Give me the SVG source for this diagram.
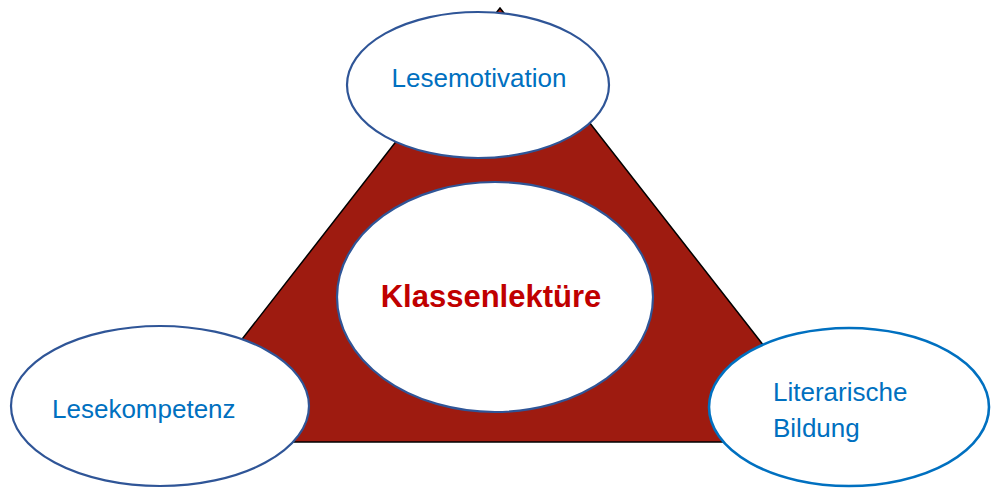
<svg xmlns="http://www.w3.org/2000/svg" width="991" height="488" viewBox="0 0 991 488">
  <style>
    .node { fill: #ffffff; stroke: #2F5597; stroke-width: 2.2; }
    .node-light { fill: #ffffff; stroke: #0070C0; stroke-width: 2.6; }
    .label { font-family: "Liberation Sans", Arial, sans-serif; font-size: 26px; fill: #0070C0; }
    .title { font-family: "Liberation Sans", Arial, sans-serif; font-size: 31px; font-weight: bold; fill: #C00000; }
  </style>
  <rect width="991" height="488" fill="#ffffff"/>

  <!-- backdrop triangle linking the three areas -->
  <g id="connectors">
    <polygon points="500,8 162,442 839,442" fill="#9E1B10" stroke="#000000" stroke-width="1.5" stroke-linejoin="miter"/>
  </g>

  <g id="node-klassenlektuere">
    <ellipse class="node" cx="495" cy="297" rx="158" ry="115" stroke-width="1.8"/>
    <text class="title" x="491" y="307" text-anchor="middle">Klassenlektüre</text>
  </g>

  <g id="node-lesemotivation">
    <ellipse class="node" cx="478" cy="85" rx="131" ry="73"/>
    <text class="label" x="479" y="87" text-anchor="middle">Lesemotivation</text>
  </g>

  <g id="node-lesekompetenz">
    <ellipse class="node" cx="160" cy="406" rx="149" ry="80"/>
    <text class="label" x="52" y="418">Lesekompetenz</text>
  </g>

  <g id="node-literarische-bildung">
    <ellipse class="node-light" cx="849" cy="407" rx="140" ry="79"/>
    <text class="label" x="773" y="401">Literarische</text>
    <text class="label" x="773" y="437">Bildung</text>
  </g>
</svg>
